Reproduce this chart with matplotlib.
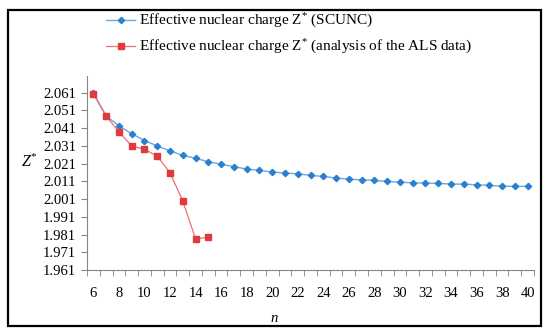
import matplotlib
matplotlib.use('Agg')
import matplotlib.pyplot as plt
import numpy as np

plt.rcParams['font.family'] = ['Liberation Serif', 'DejaVu Serif']
plt.rcParams['mathtext.fontset'] = 'custom'
plt.rcParams['mathtext.rm'] = 'Liberation Serif'
plt.rcParams['mathtext.it'] = 'Liberation Serif:italic'

n_scunc = list(range(6, 41))
z_scunc = [2.0608, 2.0478, 2.0422, 2.0378, 2.0339, 2.0309, 2.0281, 2.0256, 2.0239,
           2.0220, 2.0206, 2.0192, 2.0179, 2.0171, 2.0162, 2.0156, 2.0152, 2.0143,
           2.0137, 2.0128, 2.0122, 2.0118, 2.0115, 2.0109, 2.0105, 2.0101, 2.0100,
           2.0098, 2.0094, 2.0094, 2.0090, 2.0087, 2.0082, 2.0081, 2.0081]

n_als = list(range(6, 16))
z_als = [2.0601, 2.0478, 2.0388, 2.0309, 2.0290, 2.0251, 2.0158, 1.9999, 1.9785, 1.9795]

ytick_vals = [1.961, 1.971, 1.981, 1.991, 2.001, 2.011, 2.021, 2.031, 2.041, 2.051, 2.061]
xtick_vals = list(range(6, 41, 2))

fig = plt.figure(figsize=(5.5, 3.36), dpi=100)
ax = fig.add_axes([87/550, 66/336, 447/550, 194/336])

ax.plot(n_scunc, z_scunc, color='#6aa8de', lw=1, marker='D', ms=3.2,
        mfc='#2a7fd0', mec='#2a7fd0', label=r'Effective nuclear charge Z$^{*}$ (SCUNC)')
ax.plot(n_als, z_als, color='#ee7070', lw=0.9, marker='s', ms=4.5,
        mfc='#e03a3e', mec='#e03a3e', label=r'Effective nuclear charge Z$^{*}$ (analysis of the ALS data)')

ax.set_xlim(5.5, 40.5)
ax.set_ylim(1.961, 2.0703)
ax.set_yticks(ytick_vals)
ax.set_yticklabels(['%.3f' % v for v in ytick_vals], fontsize=10.5)
ax.set_xticks(xtick_vals)
ax.set_xticklabels([str(v) for v in xtick_vals], fontsize=10.5)
ax.set_xticks(np.arange(5.5, 41, 1), minor=True)
ax.tick_params(axis='x', which='major', length=0, pad=12)
ax.tick_params(axis='x', which='minor', length=4, color='#868686', direction='out')
ax.tick_params(axis='y', length=4, color='#868686', pad=4)

for s in ['top', 'right']:
    ax.spines[s].set_visible(False)
for s in ['left', 'bottom']:
    ax.spines[s].set_color('#868686')
    ax.spines[s].set_linewidth(0.8)

fig.text(274/550, 1 - 318/336, 'n', fontsize=10.5, style='italic', ha='center', va='center')
fig.text(30/550, 1 - 162/336, r'$Z^{*}$', fontsize=11.5, ha='center', va='center')

leg = fig.legend(loc='upper left', bbox_to_anchor=(106/550, 1 - 12/336), frameon=False,
                 fontsize=11, handlelength=1.9, handletextpad=0.25, labelspacing=0.5,
                 borderpad=0, borderaxespad=0)

# outer frame
fig.patches.append(plt.Rectangle((8/550, 1 - 326/336), 533/550, 316/336, transform=fig.transFigure,
                                 fill=False, edgecolor='black', lw=1.6))

fig.savefig('out.png', dpi=100)
